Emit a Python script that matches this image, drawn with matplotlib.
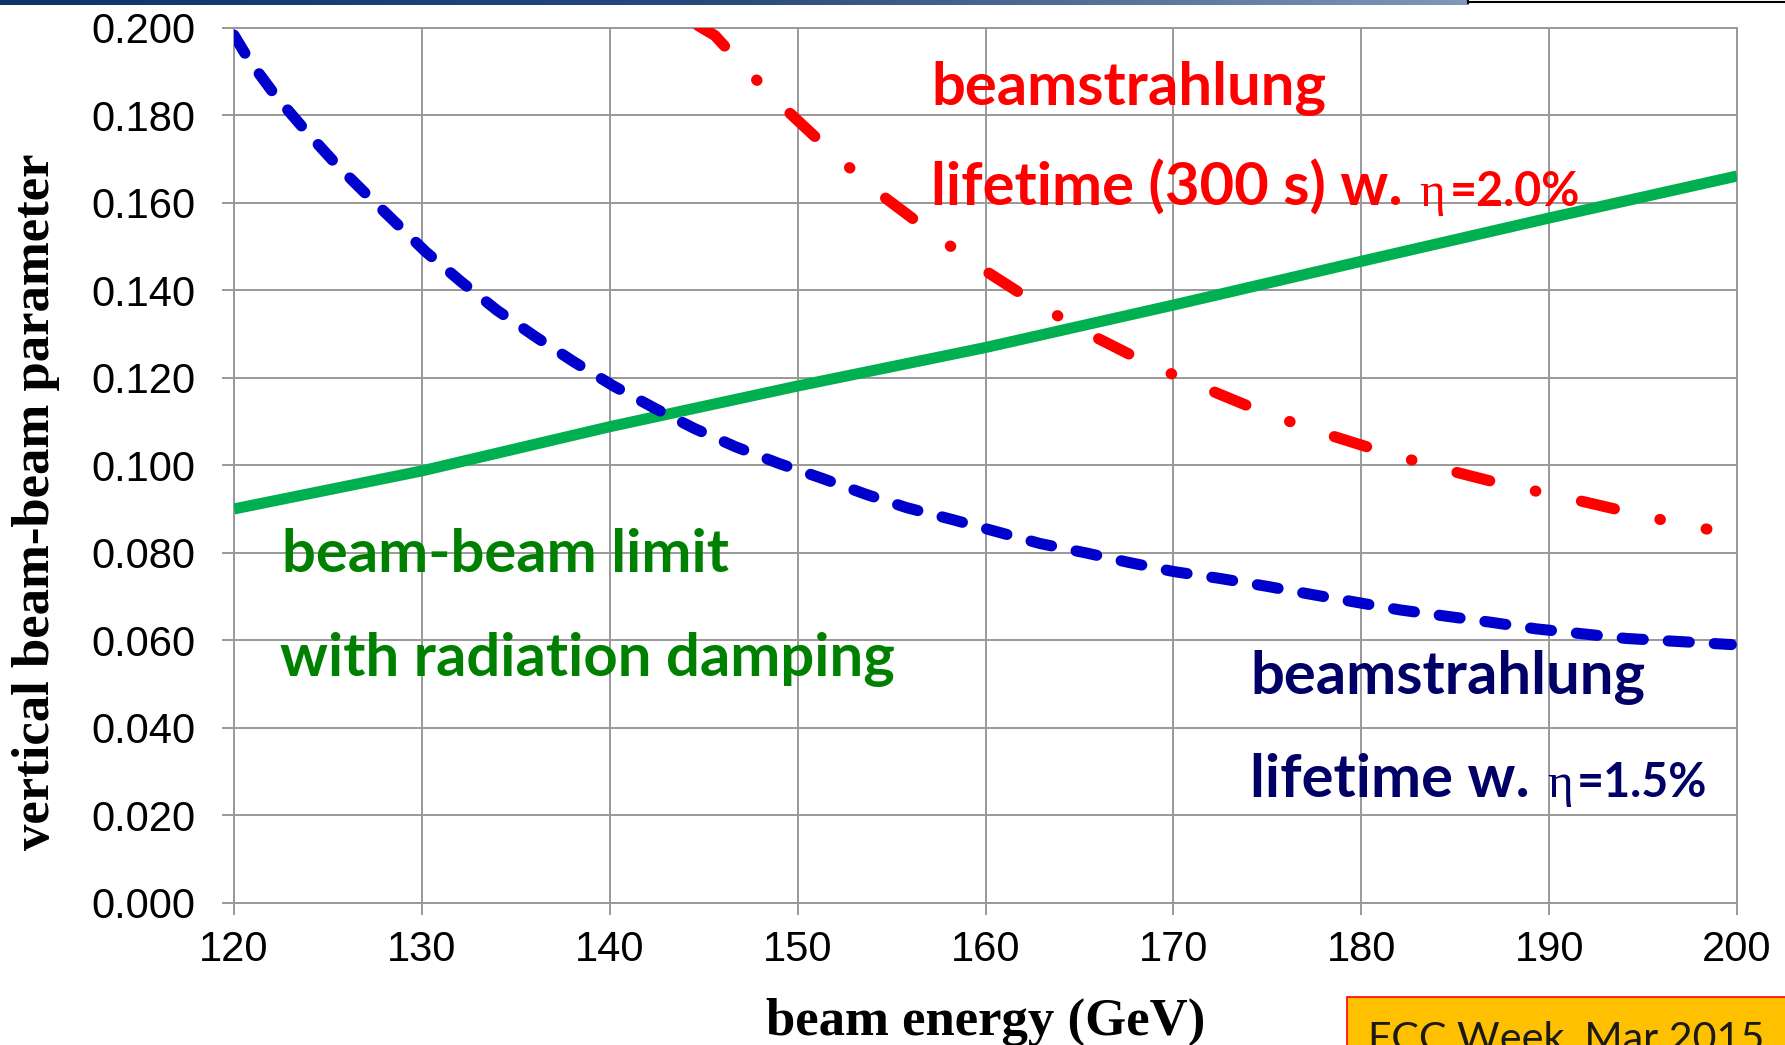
import numpy as np
import matplotlib
matplotlib.use('Agg')
import matplotlib.pyplot as plt
from matplotlib import transforms
from matplotlib.colors import LinearSegmentedColormap
from matplotlib.lines import Line2D
from matplotlib.patches import Rectangle

# ---- data ----
# beam-beam limit with radiation damping (green)
green_E = [120, 130, 140, 150, 160, 170, 180, 190, 200]
green_xi = [0.0900, 0.0987, 0.1088, 0.1181, 0.1269, 0.1366, 0.1466, 0.1565, 0.1661]

# beamstrahlung lifetime w. eta=1.5% (blue dashed)
blue_E = [120.0, 120.8, 122.2, 123.8, 125.5, 127.1, 130.2, 132.1, 134.0, 136.1,
          138.1, 140.2, 142.4, 144.5, 146.7, 149.0, 151.3, 153.6, 155.8, 158.3,
          160.6, 162.9, 165.4, 167.6, 170.0, 172.5, 175.0, 177.3, 179.7, 182.1,
          184.5, 186.9, 189.3, 191.7, 194.1, 196.5, 199.7]
blue_xi = [0.1983, 0.1926, 0.1845, 0.1765, 0.1685, 0.1617, 0.1488, 0.1419, 0.1354, 0.1292,
           0.1236, 0.1181, 0.1130, 0.1084, 0.1042, 0.1004, 0.0970, 0.0934, 0.0903, 0.0875,
           0.0848, 0.0821, 0.0799, 0.0778, 0.0757, 0.0741, 0.0723, 0.0705, 0.0687, 0.0669,
           0.0655, 0.0641, 0.0626, 0.0615, 0.0604, 0.0598, 0.0590]

# beamstrahlung lifetime (300 s) w. eta=2.0% (red dash-dot)
red_E = [144.7, 145.6, 147.2, 149.6, 152.0, 154.6, 157.3, 160.0, 162.8, 165.7,
         168.7, 171.8, 174.9, 178.0, 181.2, 184.4, 187.6, 190.8, 194.0, 197.2, 198.4]
red_xi = [0.2005, 0.1982, 0.1907, 0.1804, 0.1708, 0.1613, 0.1526, 0.1444, 0.1367, 0.1296,
          0.1231, 0.1174, 0.1119, 0.1073, 0.1030, 0.0991, 0.0956, 0.0927, 0.0895, 0.0863, 0.0854]

xticks = np.arange(120, 201, 10)
yticks = np.arange(0, 0.2001, 0.02)

W, H = 1785, 1045
fig = plt.figure(figsize=(W / 100, H / 100), dpi=100)
fig.patch.set_facecolor('white')
renderer = fig.canvas.get_renderer()

ax = fig.add_axes([234 / W, 1 - 902.7 / H, (1737 - 234) / W, (902.7 - 27.7) / H])

grid_c = '#999999'
lw = 8.0
ax.plot(green_E, green_xi, color='#00B050', lw=lw, solid_capstyle='butt', zorder=3)
ax.plot(blue_E, blue_xi, color='#0000CC', lw=lw, dashes=(1.9, 2.25),
        dash_capstyle='round', zorder=4)
ax.plot(red_E, red_xi, color='#FF0000', lw=lw, dashes=(3.05, 4.2, 0.05, 4.2),
        dash_capstyle='round', zorder=5)

ax.set_xlim(120, 200)
ax.set_ylim(0, 0.2)
ax.set_xticks(xticks)
ax.set_yticks(yticks)
ax.set_yticklabels(['%.3f' % v for v in yticks])
ax.grid(True, color=grid_c, lw=1.4)
ax.set_axisbelow(True)
for s in ax.spines.values():
    s.set_color(grid_c)
    s.set_linewidth(1.4)
ax.tick_params(axis='both', direction='out', length=8.6, width=1.4, color=grid_c,
               labelsize=30, labelcolor='black')
ax.tick_params(axis='y', pad=19)
ax.tick_params(axis='x', pad=11)
for lab in ax.get_xticklabels() + ax.get_yticklabels():
    lab.set_family('Liberation Sans')

# axis titles
fig.text(986 / W, (H - 1035) / H, 'beam energy (GeV)', ha='center', va='baseline',
         family='Liberation Serif', weight='bold', fontsize=38)
fig.text(36 / W, 1 - 502 / H, 'vertical beam-beam parameter', ha='center', va='center',
         rotation=90, family='Liberation Serif', weight='bold', fontsize=38)


def fit_size(s, family, weight, target):
    t = fig.text(0, 0, s, fontsize=40, family=family, weight=weight)
    w = t.get_window_extent(renderer).width
    t.remove()
    return 40 * target / w


big = fit_size('beamstrahlung', 'Lato', 'bold', 395)
small = fit_size('=2.0%', 'Lato', 'bold', 130)


def px2data(xp, yp):
    return 120 + (xp - 234) / 1503 * 80, (902.7 - yp) / 87.35 * 0.02


def chain(xp, yp, parts, color):
    x, y = px2data(xp, yp)
    dx = 0
    for s, kw, gap in parts:
        tr = transforms.offset_copy(ax.transData, fig=fig, x=dx, y=0, units='dots')
        t = ax.text(x, y, s, color=color, transform=tr, ha='left', va='baseline',
                    zorder=6, **kw)
        dx += t.get_window_extent(renderer).width + gap


main_kw = dict(family='Lato', weight='bold', fontsize=big)
small_kw = dict(family='Lato', weight='bold', fontsize=small)
eta_kw = dict(family='Liberation Serif', fontsize=small * 1.05)

chain(931, 106, [('beamstrahlung', main_kw, 0)], '#FF0000')
chain(931, 207, [('lifetime (300 s) w.', main_kw, 17), ('η', eta_kw, 4),
                 ('=2.0%', small_kw, 0)], '#FF0000')
chain(282, 573, [('beam-beam limit', main_kw, 0)], '#008000')
chain(280, 676, [('with radiation damping', main_kw, 0)], '#008000')
chain(1250, 694, [('beamstrahlung', main_kw, 0)], '#000066')
chain(1250, 797, [('lifetime w.', main_kw, 17), ('η', eta_kw, 4),
                  ('=1.5%', small_kw, 0)], '#000066')

# slide decorations: title bar at top, box corner, footer tag
bax = fig.add_axes([0, 1 - 5 / H, 1468 / W, 5 / H])
cmap = LinearSegmentedColormap.from_list('bar', ['#0b3567', '#2a4a7c', '#8098b8'])
bax.imshow(np.linspace(0, 1, 256).reshape(1, -1), aspect='auto', cmap=cmap)
bax.axis('off')
fig.add_artist(Line2D([1468 / W, 1], [1 - 1.5 / H, 1 - 1.5 / H], color='black', lw=1.5,
                      transform=fig.transFigure))
fig.add_artist(Line2D([1468 / W, 1468 / W], [1, 1 - 2.5 / H], color='black', lw=1.5,
                      transform=fig.transFigure))

fig.add_artist(Rectangle((1347 / W, -0.01), (W - 1347 + 5) / W, (H - 997) / H + 0.01,
                         facecolor='#FFC000', edgecolor='#FF0000', lw=1.2,
                         transform=fig.transFigure))
fcc = fit_size('FCC Week, Mar 2015', 'Lato', 'normal', 396)
fig.text(1368 / W, (H - 1050) / H, 'FCC Week, Mar 2015', family='Lato', fontsize=fcc,
         color='#1a1a1a', ha='left', va='baseline')

fig.savefig('out.png', dpi=100)
